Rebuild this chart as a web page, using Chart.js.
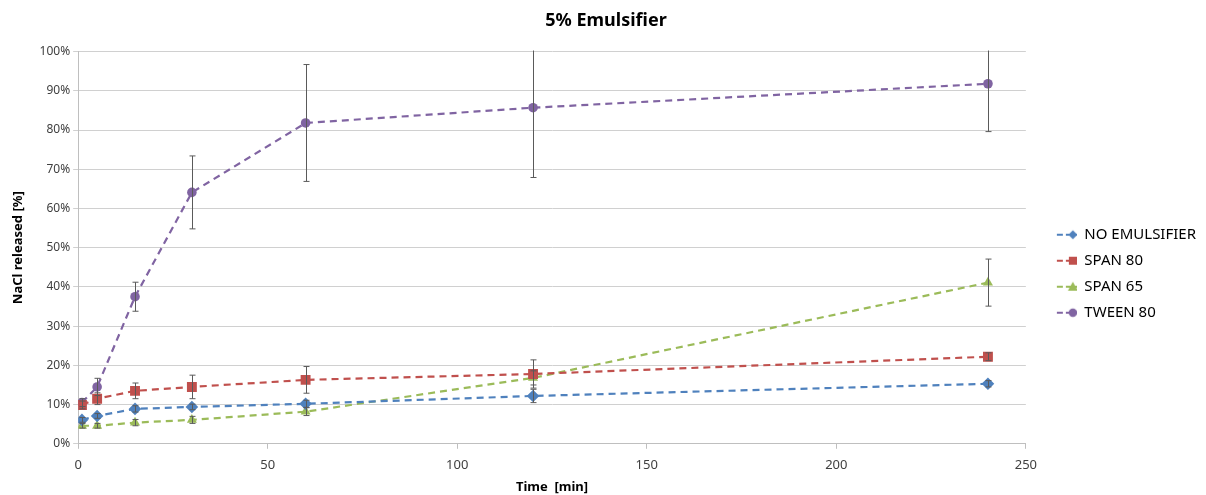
<!DOCTYPE html>
<html>
<head>
<meta charset="utf-8">
<script src="https://cdn.jsdelivr.net/npm/chart.js@4"></script>
<style>
  body { margin: 0; background: #fff; }
  #wrap { width: 1206px; height: 495px; }
</style>
</head>
<body>
<div id="wrap"><canvas id="releaseChart"></canvas></div>
<script>
var times = [1, 5, 15, 30, 60, 120, 240];

var noEmulsifier = [6.1, 7.1, 8.9, 9.4, 10.2, 12.2, 15.3];
var span80 = [9.9, 11.5, 13.5, 14.5, 16.3, 17.8, 22.2];
var span65 = [4.6, 4.6, 5.4, 6.1, 8.2, 16.8, 41.1];
var tween80 = [10.5, 14.5, 37.5, 64.1, 81.8, 85.7, 91.8];

var noEmulsifierErr = [0.6, 0.6, 0.8, 0.7, 0.9, 1.7, 0.8];
var span80Err = [1.0, 1.5, 2.0, 3.0, 3.4, 3.6, 1.0];
var span65Err = [0.6, 0.6, 0.8, 0.9, 1.0, 1.8, 6.0];
var tween80Err = [1.0, 2.2, 3.7, 9.3, 14.9, 17.8, 12.2];

function pts(vals) {
  return times.map(function (t, i) { return { x: t, y: vals[i] }; });
}

// small line + marker picture for the legend, like the spreadsheet legend
function legendIcon(color, style) {
  var c = document.createElement("canvas");
  c.width = 40;
  c.height = 14;
  var g = c.getContext("2d");
  g.strokeStyle = color;
  g.fillStyle = color;
  g.lineWidth = 2;
  g.beginPath();
  g.moveTo(20, 7); g.lineTo(26, 7);
  g.moveTo(29, 7); g.lineTo(40, 7);
  g.stroke();
  var cx = 36, cy = 7;
  g.beginPath();
  if (style === "rectRot") {
    g.moveTo(cx, cy - 4.5); g.lineTo(cx + 4.5, cy); g.lineTo(cx, cy + 4.5); g.lineTo(cx - 4.5, cy);
  } else if (style === "rect") {
    g.rect(cx - 4, cy - 4, 8, 8);
  } else if (style === "triangle") {
    g.moveTo(cx, cy - 5); g.lineTo(cx + 5, cy + 4); g.lineTo(cx - 5, cy + 4);
  } else {
    g.arc(cx, cy, 4.2, 0, Math.PI * 2);
  }
  g.closePath();
  g.fill();
  return c;
}

// draws vertical error bars with caps, using the chart scales
var errorBars = {
  id: "errorBars",
  afterDatasetsDraw: function (chart) {
    var ctx = chart.ctx;
    var xs = chart.scales.x, ys = chart.scales.y;
    var area = chart.chartArea;
    ctx.save();
    ctx.beginPath();
    ctx.rect(area.left, area.top - 1, area.right - area.left, area.bottom - area.top + 2);
    ctx.clip();
    ctx.strokeStyle = "#5a5a5a";
    ctx.lineWidth = 1;
    chart.data.datasets.forEach(function (ds) {
      ds.data.forEach(function (p, i) {
        var e = ds.errors[i];
        var px = Math.round(xs.getPixelForValue(p.x)) + 0.5;
        var top = ys.getPixelForValue(p.y + e);
        var bot = ys.getPixelForValue(p.y - e);
        ctx.beginPath();
        ctx.moveTo(px, top);
        ctx.lineTo(px, bot);
        ctx.moveTo(px - 3, top);
        ctx.lineTo(px + 3, top);
        ctx.moveTo(px - 3, bot);
        ctx.lineTo(px + 3, bot);
        ctx.stroke();
      });
    });
    ctx.restore();
  },
};

function series(label, vals, errs, color, style, radius) {
  return {
    label: label,
    data: pts(vals),
    errors: errs,
    icon: legendIcon(color, style),
    borderColor: color,
    backgroundColor: color,
    borderWidth: 2.2,
    borderDash: [7, 5],
    pointStyle: style,
    pointRadius: radius,
    pointBorderWidth: 0,
    pointHoverRadius: radius,
    tension: 0,
    fill: false,
  };
}

window.addEventListener("DOMContentLoaded", function () {
  var ctx = document.getElementById("releaseChart").getContext("2d");
  new Chart(ctx, {
    type: "line",
    data: {
      datasets: [
        series("NO EMULSIFIER", noEmulsifier, noEmulsifierErr, "#4F81BD", "rectRot", 6.3),
        series("SPAN 80", span80, span80Err, "#C0504D", "rect", 7),
        series("SPAN 65", span65, span65Err, "#9BBB59", "triangle", 5.8),
        series("TWEEN 80", tween80, tween80Err, "#8064A2", "circle", 4.8),
      ],
    },
    options: {
      responsive: true,
      maintainAspectRatio: false,
      animation: false,
      layout: { padding: { left: 6, right: 0, top: 4, bottom: 0 } },
      scales: {
        x: {
          type: "linear",
          min: 0,
          max: 250,
          afterFit: function (scale) { scale.height -= 5; },
          ticks: { stepSize: 50, color: "#404040", font: { family: "Noto Sans", size: 13 }, padding: 9 },
          grid: { drawOnChartArea: false, drawTicks: true, tickLength: 5, color: "#bfbfbf" },
          border: { color: "#bfbfbf" },
          title: { display: true, text: "Time  [min]", color: "#000", font: { family: "Noto Sans", size: 13, weight: "bold" }, padding: { top: 2, bottom: 0 } },
        },
        y: {
          min: 0,
          max: 100,
          afterFit: function (scale) { scale.width += 7; },
          ticks: {
            stepSize: 10,
            color: "#404040",
            font: { family: "Noto Sans", size: 12 },
            callback: function (v) { return v + "%"; },
          },
          grid: { color: "#d0d0d0", tickLength: 5 },
          border: { color: "#bfbfbf" },
          title: { display: true, text: "NaCl released [%]", color: "#000", font: { family: "Noto Sans", size: 13, weight: "bold" } },
        },
      },
      plugins: {
        title: {
          display: true,
          text: "5% Emulsifier",
          color: "#000",
          font: { family: "Noto Sans", size: 18, weight: "bold" },
          padding: { top: 6, bottom: 20 },
        },
        legend: {
          position: "right",
          title: { display: true, text: " ", padding: { top: 34 } },
          labels: {
            usePointStyle: true,
            pointStyleWidth: 40,
            color: "#000",
            font: { family: "Noto Sans", size: 15 },
            padding: 11,
            boxWidth: 40,
            boxHeight: 14,
            generateLabels: function (chart) {
              return chart.data.datasets.map(function (ds, i) {
                return {
                  text: ds.label,
                  pointStyle: ds.icon,
                  fillStyle: ds.borderColor,
                  strokeStyle: ds.borderColor,
                  lineWidth: 0,
                  hidden: false,
                  datasetIndex: i,
                  fontColor: "#000",
                };
              });
            },
          },
        },
        tooltip: { enabled: false },
      },
    },
    plugins: [errorBars],
  });
});
</script>
</body>
</html>
